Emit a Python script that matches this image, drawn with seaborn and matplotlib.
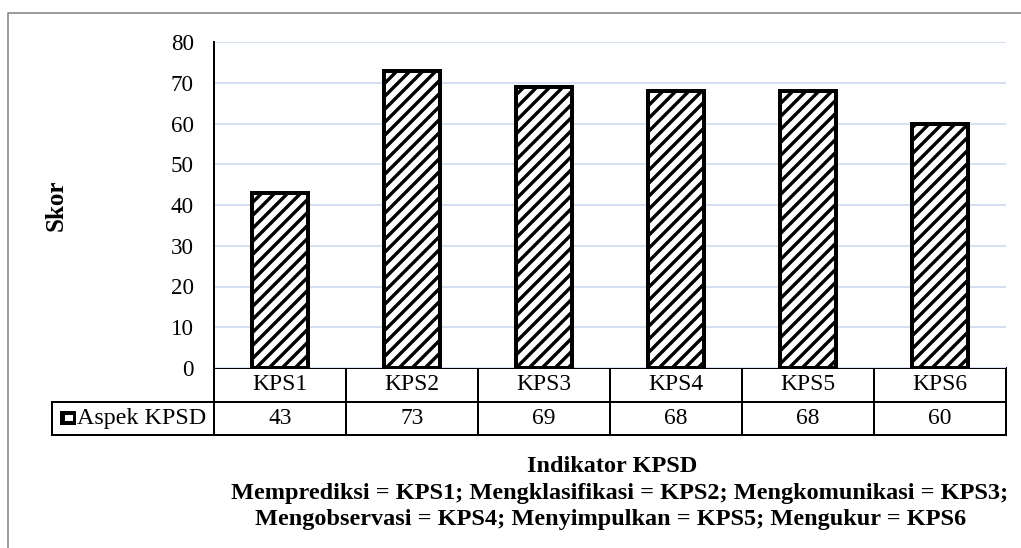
import matplotlib
matplotlib.use("Agg")
import matplotlib.pyplot as plt
from matplotlib.patches import Rectangle
from matplotlib.lines import Line2D
from matplotlib.table import Table
import seaborn as sns

# Data
categories = ["KPS1", "KPS2", "KPS3", "KPS4", "KPS5", "KPS6"]
values = [43, 73, 69, 68, 68, 60]
series_name = "Aspek KPSD"
y_ticks = [0, 10, 20, 30, 40, 50, 60, 70, 80]
x_title = "Indikator KPSD"
y_title = "Skor"
note_lines = [
    "Memprediksi = KPS1; Mengklasifikasi = KPS2; Mengkomunikasi = KPS3;",
    "Mengobservasi = KPS4; Menyimpulkan = KPS5; Mengukur = KPS6",
]

DPI = 78
W, H = 1021, 548


def pt(px):
    """Convert a size in pixels to points for this figure's dpi."""
    return px * 72.0 / DPI


sns.set_style("white")
plt.rcParams["font.family"] = ["Liberation Serif", "DejaVu Serif"]
plt.rcParams["hatch.color"] = "black"
plt.rcParams["hatch.linewidth"] = pt(3.4)

fig = plt.figure(figsize=(W / DPI, H / DPI), dpi=DPI)
fig.patch.set_facecolor("white")

# plot area in pixels: x 214..1006, y 42..368
ax_l, ax_r, ax_t, ax_b = 214, 1006, 42, 368
ax = fig.add_axes([ax_l / W, 1 - ax_b / H, (ax_r - ax_l) / W, (ax_b - ax_t) / H])

sns.barplot(
    x=categories, y=values, ax=ax, color="white", saturation=1,
    edgecolor="black", linewidth=pt(4), hatch="//", width=0.42,
)

ax.set_ylim(0, 80)
ax.set_xlim(-0.5, len(categories) - 0.5)
ax.set_yticks(y_ticks)
ax.set_xticks([])
ax.set_xlabel("")
ax.yaxis.grid(True, color="#d5e1f2", linewidth=pt(2))
ax.set_axisbelow(True)
for side in ("top", "right", "bottom"):
    ax.spines[side].set_visible(False)
ax.spines["left"].set_color("black")
ax.spines["left"].set_linewidth(pt(2))
ax.tick_params(axis="y", length=0, pad=pt(20), labelsize=pt(23), labelcolor="black")

ax.set_ylabel(y_title, fontsize=pt(25), fontweight="bold", color="black")
ax.yaxis.set_label_coords((68 - ax_l) / (ax_r - ax_l), 0.5)

# Data table under the plot: header row of categories, one value row
tab_l, tab_top, tab_bot = 52, 368, 435
ax_w = ax_r - ax_l
ax_h = ax_b - ax_t
bbox = [
    (tab_l - ax_l) / ax_w,
    -(tab_bot - tab_top) / ax_h,
    (ax_r - tab_l) / ax_w,
    (tab_bot - tab_top) / ax_h,
]
tbl = Table(ax, bbox=bbox)
label_w = ax_l - tab_l
col_w = (ax_r - ax_l) / len(categories)
row_h = (tab_bot - tab_top) / 2
rows = [[""] + categories, [series_name] + [str(v) for v in values]]
for r, row in enumerate(rows):
    for c, txt in enumerate(row):
        w = label_w if c == 0 else col_w
        loc = "right" if c == 0 else "center"
        cell = tbl.add_cell(r, c, w, row_h, text=txt, loc=loc,
                            edgecolor="black", facecolor="white")
        cell.set_linewidth(pt(2))
        cell.get_text().set_fontsize(pt(23.5))
        cell.get_text().set_color("black")
        if c == 0:
            cell.PAD = 0.05
            cell.get_text().set_fontsize(pt(24))
            if r == 0:
                cell.visible_edges = ""
tbl.auto_set_font_size(False)
ax.add_table(tbl)

# series swatch next to the row label
fig.add_artist(Rectangle((60 / W, 1 - 425 / H), 16 / W, 14 / H,
                         facecolor="black", edgecolor="none",
                         transform=fig.transFigure))
fig.add_artist(Rectangle((65 / W, 1 - 421 / H), 8 / W, 6 / H,
                         facecolor="white", edgecolor="none",
                         transform=fig.transFigure))

# axis title and notes below the table
cx = ((ax_l + ax_r) / 2) / W
note_fs = pt(24.3)
fig.text(cx + 2 / W, 1 - 467 / H, x_title, ha="center", va="center",
         fontsize=note_fs, fontweight="bold", color="black")
fig.text(cx + 10 / W, 1 - 494 / H, note_lines[0], ha="center", va="center",
         fontsize=note_fs, fontweight="bold", color="black")
fig.text(cx + 1 / W, 1 - 519 / H, note_lines[1], ha="center", va="center",
         fontsize=note_fs, fontweight="bold", color="black")

# outer chart frame
fig.add_artist(Line2D([8 / W, 8 / W, 1.0], [0.0, 1 - 13 / H, 1 - 13 / H],
                      color="#7f7f7f", linewidth=pt(1.5), transform=fig.transFigure))

fig.savefig("out.png", dpi=DPI, facecolor="white")
